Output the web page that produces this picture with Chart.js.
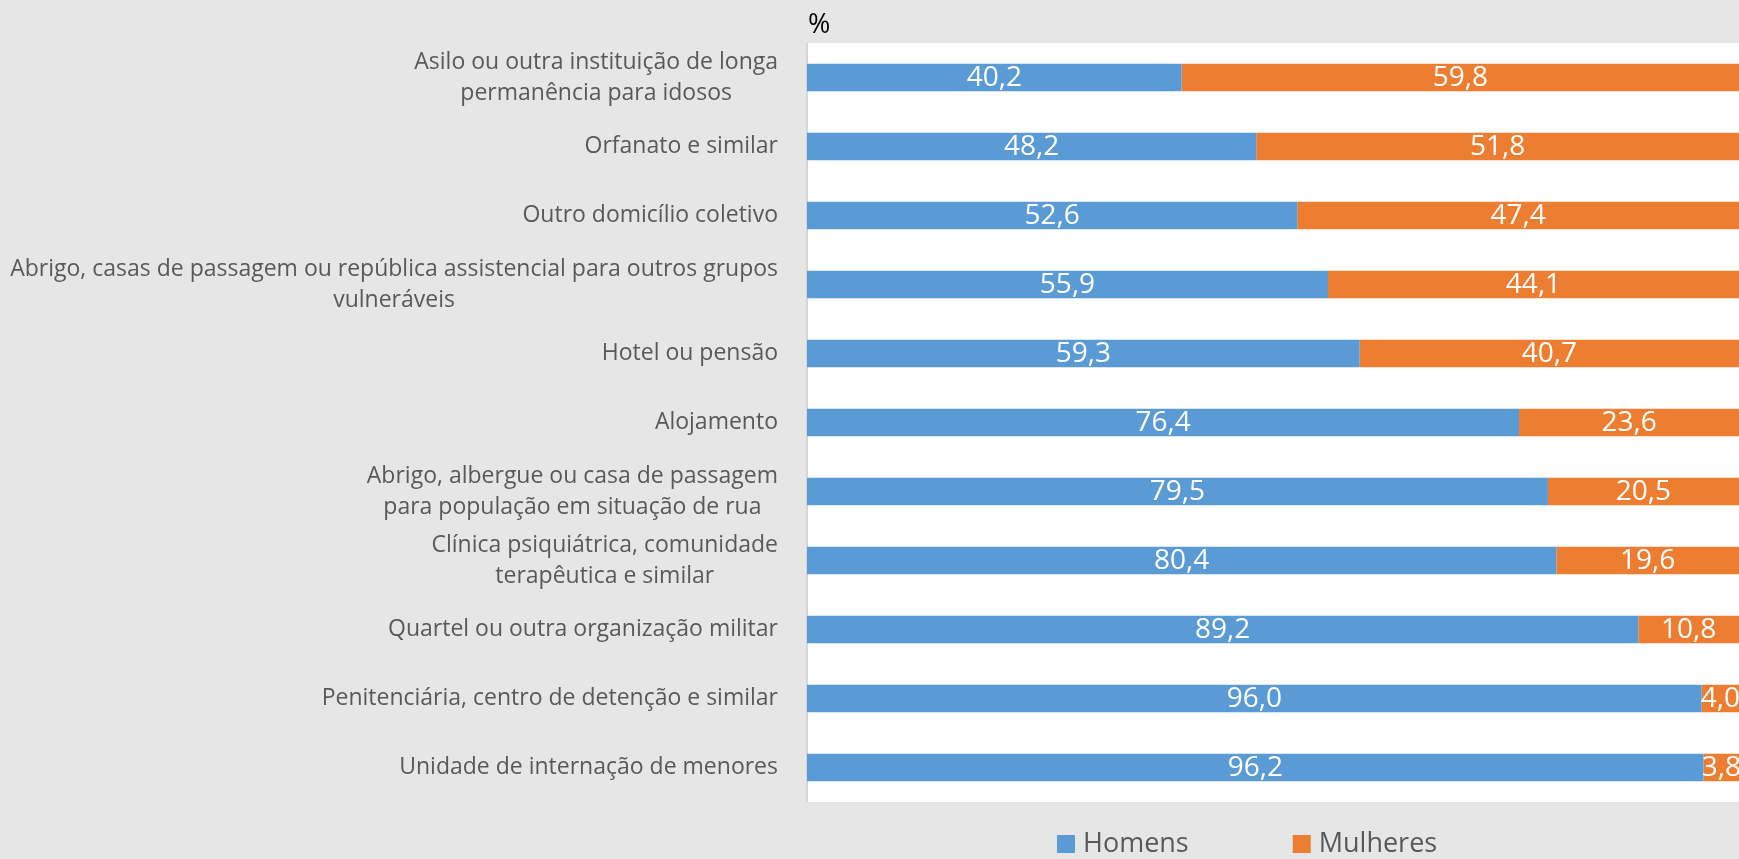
<!DOCTYPE html>
<html>
<head>
<meta charset="utf-8">
<script src="https://cdn.jsdelivr.net/npm/chart.js@4/dist/chart.umd.min.js"></script>
<style>
    html, body { margin: 0; padding: 0; background: #e7e6e6; }
    #wrap { width: 1739px; height: 859px; position: relative; }
</style>
</head>
<body>
<div id="wrap"><canvas id="grafico"></canvas></div>
<script>
// dados
const categorias = [
    ['Asilo ou outra instituição de longa', 'permanência para idosos'],
    'Orfanato e similar',
    'Outro domicílio coletivo',
    ['Abrigo, casas de passagem ou república assistencial para outros grupos', 'vulneráveis'],
    'Hotel ou pensão',
    'Alojamento',
    ['Abrigo, albergue ou casa de passagem', 'para população em situação de rua'],
    ['Clínica psiquiátrica, comunidade', 'terapêutica e similar'],
    'Quartel ou outra organização militar',
    'Penitenciária, centro de detenção e similar',
    'Unidade de internação de menores'
];
const homens = [40.2, 48.2, 52.6, 55.9, 59.3, 76.4, 79.5, 80.4, 89.2, 96.0, 96.2];
const mulheres = [59.8, 51.8, 47.4, 44.1, 40.7, 23.6, 20.5, 19.6, 10.8, 4.0, 3.8];
const nomesSeries = ['Homens', 'Mulheres'];
const unidade = '%';

const FONTE = "'Open Sans', sans-serif";
const CINZA_TEXTO = '#595959';
const AZUL = '#5b9bd5';
const LARANJA = '#ed7d31';

function formatar(v) {
    return v.toFixed(1).replace('.', ',');
}

// fundo branco da área do gráfico + linha do eixo + "%"
const fundoPlugin = {
    id: 'fundo',
    beforeDatasetsDraw(chart) {
        const { ctx, chartArea: a } = chart;
        ctx.save();
        ctx.fillStyle = '#ffffff';
        ctx.fillRect(a.left, a.top, a.right - a.left, a.bottom - a.top);
        ctx.fillStyle = '#d6d6d6';
        ctx.fillRect(a.left - 1, a.top, 2, a.bottom - a.top);
        ctx.fillStyle = '#000000';
        ctx.font = '27px ' + FONTE;
        ctx.textBaseline = 'alphabetic';
        ctx.textAlign = 'left';
        ctx.fillText(unidade, a.left + 1, 33);
        ctx.restore();
    }
};

// valores dentro das barras
const valoresPlugin = {
    id: 'valores',
    afterDatasetsDraw(chart) {
        const { ctx } = chart;
        ctx.save();
        ctx.font = '28px ' + FONTE;
        ctx.fillStyle = '#ffffff';
        ctx.textAlign = 'center';
        ctx.textBaseline = 'middle';
        chart.data.datasets.forEach((ds, di) => {
            chart.getDatasetMeta(di).data.forEach((bar, i) => {
                const x = (bar.x + bar.base) / 2;
                ctx.fillText(formatar(ds.data[i]), x, bar.y + 1);
            });
        });
        ctx.restore();
    }
};

// rótulos das categorias (linhas centradas entre si, bloco alinhado à direita)
const categoriasPlugin = {
    id: 'categoriasRotulos',
    afterDraw(chart) {
        const { ctx, chartArea: a } = chart;
        const y = chart.scales.y;
        const direita = a.left - 29;
        const alturaLinha = 31;
        ctx.save();
        ctx.font = '23px ' + FONTE;
        ctx.fillStyle = CINZA_TEXTO;
        ctx.textAlign = 'center';
        ctx.textBaseline = 'middle';
        chart.data.labels.forEach((lab, i) => {
            const linhas = Array.isArray(lab) ? lab : [lab];
            const largura = Math.max(...linhas.map(l => ctx.measureText(l).width));
            const cx = direita - largura / 2;
            const cy = y.getPixelForValue(i);
            const y0 = cy - (linhas.length - 1) * alturaLinha / 2;
            linhas.forEach((l, k) => ctx.fillText(l, cx, y0 + k * alturaLinha));
        });
        ctx.restore();
    }
};

// legenda embaixo
const legendaPlugin = {
    id: 'legendaBaixo',
    afterDraw(chart) {
        const { ctx } = chart;
        const caixa = 18, folga = 8, espaco = 104;
        const cy = 844;
        ctx.save();
        ctx.font = '27px ' + FONTE;
        ctx.textBaseline = 'middle';
        ctx.textAlign = 'left';
        let x = 1057;
        chart.data.datasets.forEach(ds => {
            ctx.fillStyle = ds.backgroundColor;
            ctx.fillRect(x, cy - caixa / 2, caixa, caixa);
            ctx.fillStyle = CINZA_TEXTO;
            ctx.fillText(ds.label, x + caixa + folga, cy);
            x += caixa + folga + ctx.measureText(ds.label).width + espaco;
        });
        ctx.restore();
    }
};

const ctx = document.getElementById('grafico').getContext('2d');
new Chart(ctx, {
    type: 'bar',
    data: {
        labels: categorias,
        datasets: [
            { label: nomesSeries[0], data: homens, backgroundColor: AZUL },
            { label: nomesSeries[1], data: mulheres, backgroundColor: LARANJA }
        ]
    },
    options: {
        indexAxis: 'y',
        responsive: true,
        maintainAspectRatio: false,
        animation: false,
        events: [],
        datasets: {
            bar: { categoryPercentage: 1, barPercentage: 0.4 }
        },
        layout: { padding: { left: 807, top: 43, right: 0, bottom: 57 } },
        scales: {
            x: { stacked: true, min: 0, max: 100, display: false },
            y: { stacked: true, display: false }
        },
        plugins: {
            legend: { display: false },
            tooltip: { enabled: false }
        }
    },
    plugins: [fundoPlugin, valoresPlugin, categoriasPlugin, legendaPlugin]
});
</script>
</body>
</html>
